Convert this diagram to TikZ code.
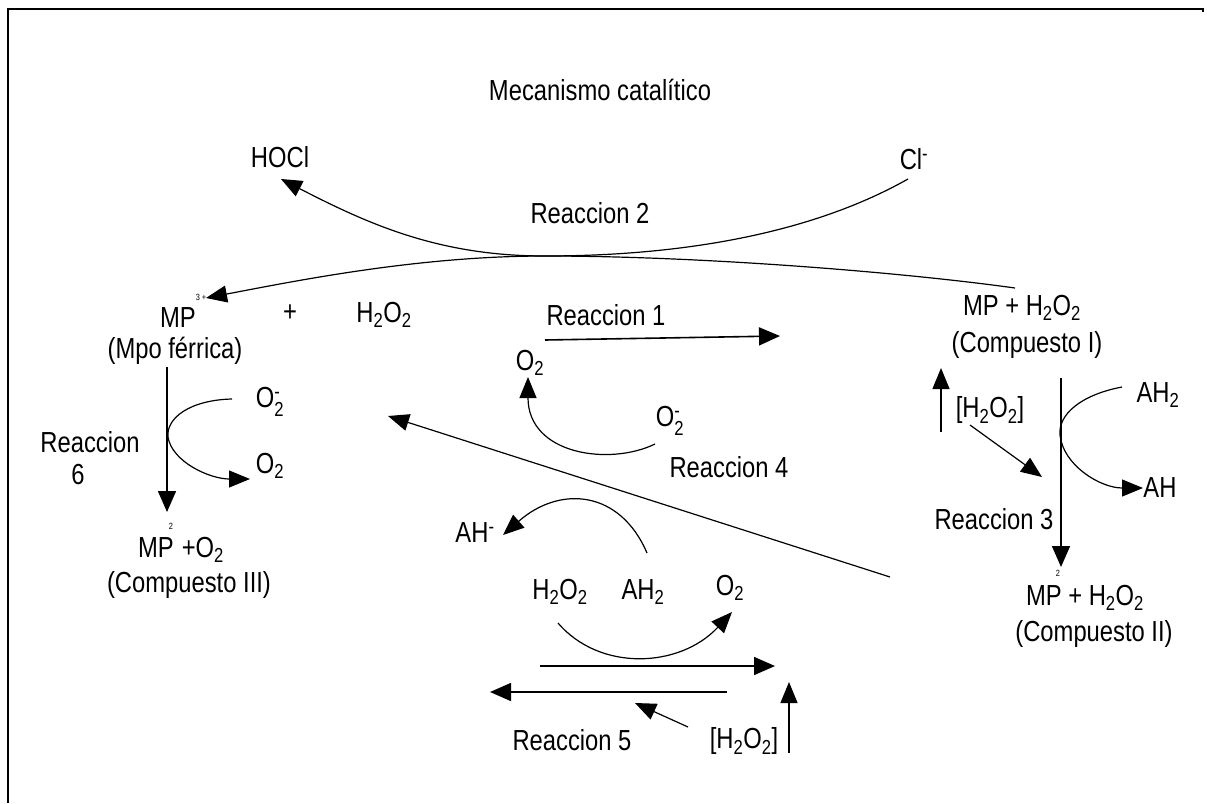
\documentclass[tikz,border=0pt]{standalone}
\usepackage{amsmath}
\usepackage{fontspec}
\setmainfont{Liberation Sans}[FakeStretch=0.82]
\usetikzlibrary{arrows.meta, positioning}
\newcommand{\ix}[1]{\textsubscript{#1}}
\newcommand{\subsup}[2]{$_{\text{#1}}^{\text{#2}}$}
\tikzset{
    especie/.style={inner sep=0pt, font=\fontsize{29}{32}\selectfont},
    indice/.style={inner sep=0pt, font=\fontsize{9}{9}\selectfont},
    flecha/.style={line width=1.6pt, -{Triangle[length=21pt, width=18pt]}},
    curva/.style={line width=1.2pt, -{Triangle[length=21pt, width=17pt]}},
    marco/.style={line width=2pt},
}

\begin{document}
\begin{tikzpicture}[x=1pt, y=-1pt]
    \useasboundingbox (0,0) rectangle (1207,803);
    \draw[marco] (8,803) -- (8,9) -- (1203,9) -- (1203,12);

    % titulo y especies
    \node[especie] (titulo) at (600,90) {Mecanismo catalítico};
    \node[especie] (hocl) at (280,157) {HOCl};
    \node[especie] (cl) at (914,162) {Cl\subsup{}{-}};
    \node[especie] (r2) at (590,213) {Reaccion 2};
    \node[especie] (mpf) at (178,318) {MP};
    \node[indice] (mpfi) at (201,297) {3 +};
    \node[especie] (ferrica) at (175,351) {(Mpo férrica)};
    \node[especie] (mas) at (290,313) {+};
    \node[especie] (h2o2a) at (384,315) {H\ix{2}O\ix{2}};
    \node[especie] (r1) at (606,315) {Reaccion 1};
    \node[especie] (c1a) at (1022,308) {MP + H\ix{2}O\ix{2}};
    \node[especie] (c1b) at (1027,345) {(Compuesto I)};
    \node[especie] (o2sup) at (530,363) {O\ix{2}};
    \node[especie] (o2m) at (670,421) {O\subsup{2}{-}};
    \node[especie] (r4) at (729,467) {Reaccion 4};
    \node[especie] (o2mizq) at (270,402) {O\subsup{2}{-}};
    \node[especie] (o2izq) at (270,466) {O\ix{2}};
    \node[especie] (r6a) at (90,442) {Reaccion};
    \node[especie] (r6b) at (78,475) {6};
    \node[especie] (c3a) at (181,550) {MP\hspace{8pt}+O\ix{2}};
    \node[indice] (c3i) at (171,526) {2};
    \node[especie] (c3b) at (189,585) {(Compuesto III)};
    \node[especie] (h2o2r) at (990,410) {[H\ix{2}O\ix{2}]};
    \node[especie] (ah2r) at (1158,395) {AH\ix{2}};
    \node[especie] (ahr) at (1160,488) {AH};
    \node[especie] (r3) at (994,519) {Reaccion 3};
    \node[especie] (c2a) at (1085,598) {MP + H\ix{2}O\ix{2}};
    \node[indice] (c2i) at (1058,573) {2};
    \node[especie] (c2b) at (1094,634) {(Compuesto II)};
    \node[especie] (ahm) at (475,536) {AH\subsup{}{-}};
    \node[especie] (h2o2b) at (560,592) {H\ix{2}O\ix{2}};
    \node[especie] (ah2b) at (643,592) {AH\ix{2}};
    \node[especie] (o2b) at (730,588) {O\ix{2}};
    \node[especie] (r5) at (572,740) {Reaccion 5};
    \node[especie] (h2o2c) at (744,741) {[H\ix{2}O\ix{2}]};

    % extremos de las flechas
    \coordinate (clx) at (908,179);
    \coordinate (hoclx) at (281,179);
    \coordinate (c1x) at (1015,288);
    \coordinate (mpfx) at (206,298);
    \coordinate (cruce) at (545,256);
    \coordinate (r1i) at (545,340);
    \coordinate (r1f) at (780,336);
    \coordinate (r6i) at (167,367);
    \coordinate (r6f) at (167,512);
    \coordinate (o2mizqx) at (232,399);
    \coordinate (o2izqx) at (250,479);
    \coordinate (diagi) at (890,577);
    \coordinate (diagf) at (388,416);
    \coordinate (o2mx) at (655,444);
    \coordinate (o2supx) at (528,377);
    \coordinate (ah2bx) at (647,553);
    \coordinate (ahmx) at (503,535);
    \coordinate (h2o2bx) at (558,623);
    \coordinate (o2bx) at (732,612);
    \coordinate (r5ai) at (540,666);
    \coordinate (r5af) at (775,666);
    \coordinate (r5bi) at (727,692);
    \coordinate (r5bf) at (490,692);
    \coordinate (h2o2ci) at (688,727);
    \coordinate (h2o2cf) at (635,703);
    \coordinate (subei) at (789,753);
    \coordinate (subef) at (789,682);
    \coordinate (subri) at (941,432);
    \coordinate (subrf) at (941,368);
    \coordinate (h2o2ri) at (970,425);
    \coordinate (h2o2rf) at (1042,477);
    \coordinate (r3i) at (1061,378);
    \coordinate (r3f) at (1061,567);
    \coordinate (ah2rx) at (1122,387);
    \coordinate (ahrx) at (1143,488);

    % reaccion 2
    \draw[curva] (clx) .. controls (800,240) and (660,256) .. (cruce)
        .. controls (440,256) and (370,225) .. (hoclx);
    \draw[curva] (c1x) .. controls (900,272) and (700,256) .. (cruce)
        .. controls (420,256) and (300,280) .. (mpfx);
    % reacciones 1, 3, 4, 5, 6
    \draw[flecha] (r1i) -- (r1f);
    \draw[flecha] (r6i) -- (r6f);
    \draw[curva] (o2mizqx) .. controls (190,400) and (166,418) .. (168,437)
        .. controls (172,462) and (210,479) .. (o2izqx);
    \draw[curva] (diagi) -- (diagf);
    \draw[curva] (o2mx) .. controls (610,466) and (528,455) .. (o2supx);
    \draw[curva] (ah2bx) .. controls (620,490) and (560,485) .. (ahmx);
    \draw[curva] (h2o2bx) .. controls (600,672) and (680,668) .. (o2bx);
    \draw[flecha] (r5ai) -- (r5af);
    \draw[flecha] (r5bi) -- (r5bf);
    \draw[curva] (h2o2ci) -- (h2o2cf);
    \draw[curva] (subei) -- (subef);
    \draw[curva] (subri) -- (subrf);
    \draw[curva] (h2o2ri) -- (h2o2rf);
    \draw[flecha] (r3i) -- (r3f);
    \draw[curva] (ah2rx) .. controls (1080,395) and (1058,415) .. (1060,435)
        .. controls (1063,465) and (1100,488) .. (ahrx);
\end{tikzpicture}
\end{document}
